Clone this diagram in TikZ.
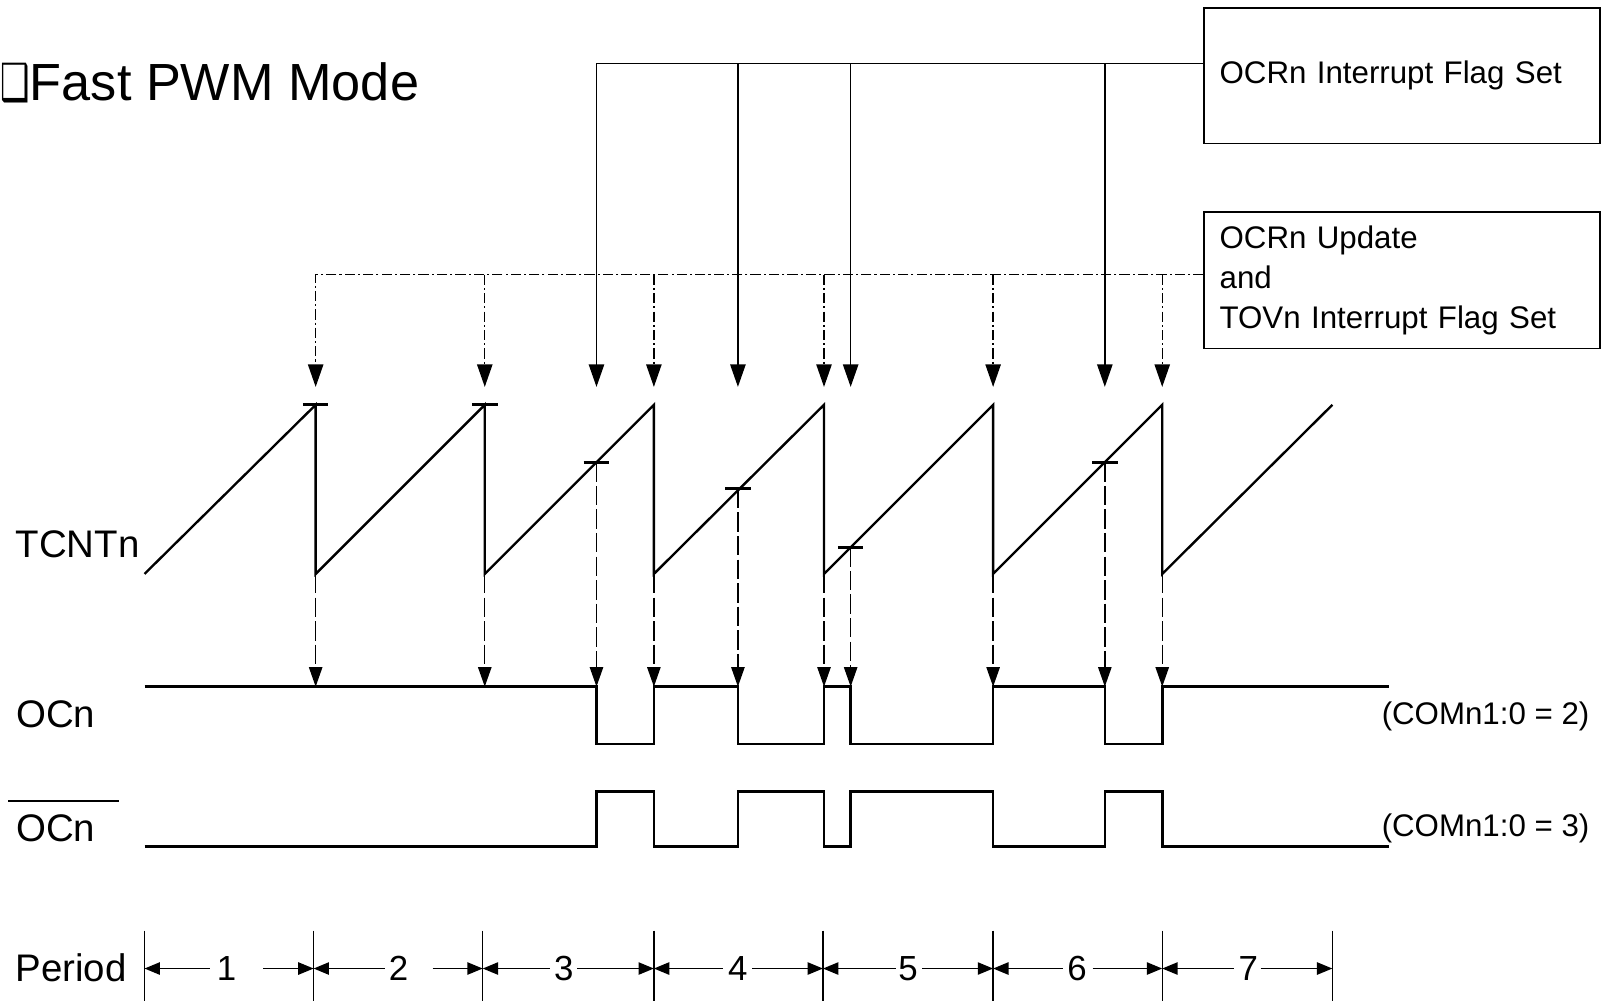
\documentclass[tikz,border=0pt]{standalone}
\usepackage{fontspec}
\setmainfont{Liberation Sans}
\newfontfamily\djv{DejaVu Sans}
\usetikzlibrary{arrows.meta}
\begin{document}
\begin{tikzpicture}[x=1pt,y=-1pt,
  wave/.style={line width=2.6pt, line join=miter},
  saw/.style={line width=2.3pt, line join=miter},
  thinline/.style={line width=1.5pt},
  tickmark/.style={line width=3pt},
  dashv/.style={line width=1.3pt, dash pattern=on 19pt off 4pt},
  dashdot/.style={line width=1.3pt, dash pattern=on 10pt off 3pt on 2pt off 3pt},
  bigtip/.style={-{Triangle[length=22pt,width=15pt]}},
  smalltip/.style={-{Triangle[length=19pt,width=13pt]}},
  ltip/.style={{Triangle[length=15pt,width=12pt]}-},
  rtip/.style={-{Triangle[length=15pt,width=12pt]}},
  box/.style={draw, line width=1.5pt, minimum width=386pt, inner xsep=15pt, inner ysep=0pt,
    text width=356pt, align=left, font=\fontsize{30.5}{39}\selectfont},
  lbl/.style={anchor=base west, inner sep=0pt, font=\fontsize{37.5}{40}\selectfont},
  com/.style={anchor=base west, inner sep=0pt, font=\fontsize{30.5}{36}\selectfont},
  num/.style={anchor=base, inner sep=0pt, font=\fontsize{34}{36}\selectfont}
]
\fill[white] (0,0) rectangle (1567,977);
\useasboundingbox (0,0) rectangle (1567,977);

% title
\node[anchor=base west, inner sep=0pt, font=\djv\fontsize{50}{52}\selectfont, xscale=0.64] (bul) at (0,98.5) {❑};
\node[anchor=base west, inner sep=0pt, font=\fontsize{51}{54}\selectfont] (title) at (29,98.5) {Fast PWM Mode};

% boxes
\node[box, minimum height=132pt] (ocf) at (1368,74) {OCRn Interrupt Flag Set};
\node[box, minimum height=133pt] (upd) at (1368,273.5) {OCRn Update\\and\\TOVn Interrupt Flag Set};

% labels
\node[lbl] (tcnt) at (15,544) {TCNTn};
\node[lbl] (ocn) at (15.6,710) {OCn};
\node[lbl] (ocnb) at (15.6,821) {OCn};
\draw[line width=2pt] (8,782) -- (116,782);
\node[com] (c2) at (1348,707) {(COMn1:0 = 2)};
\node[com] (c3) at (1348,816) {(COMn1:0 = 3)};
\node[lbl] (per) at (15,958) {Period};

% top level lines
\coordinate (topy) at (0,62);
\coordinate (updy) at (0,268);
\draw[thinline, bigtip] (ocf.west |- topy) -- (582,62) -- (582,377.5);
\foreach \x in {720,830,1078} \draw[thinline, bigtip] (\x,62) -- (\x,377.5);
\draw[dashdot, bigtip] (upd.west |- updy) -- (308,268) -- (308,377.5);
\foreach \x in {473,638,804,969,1134} \draw[dashdot, bigtip] (\x,268) -- (\x,377.5);

% sawtooth
\draw[saw] (141,560) -- (308,395) -- (308,560) -- (473,395) -- (473,560) -- (638,395) -- (638,560)
  -- (804,395) -- (804,560) -- (969,395) -- (969,560) -- (1134,395) -- (1134,560) -- (1300,395);
\foreach \x/\y in {308/395,473/395,582/451,720/477,830/534,1078/451}
  \draw[tickmark] (\x-12.5,\y) -- (\x+12.5,\y);

% dashed down arrows
\foreach \x/\y [count=\i] in {308/560,473/560,582/451,638/560,720/477,804/560,830/534,969/560,1078/451,1134/560}{
  \coordinate (s\i) at (\x,\y);
  \coordinate (o\i) at (\x,670);
  \draw[dashv, smalltip] (s\i) -- (o\i);
}

% OCn
\draw[wave] (141,670) -- (582,670) -- (582,726) -- (638,726) -- (638,670) -- (720,670) -- (720,726)
  -- (804,726) -- (804,670) -- (830,670) -- (830,726) -- (969,726) -- (969,670) -- (1078,670)
  -- (1078,726) -- (1134,726) -- (1134,670) -- (1355,670);
% OCn bar
\draw[wave] (141,826) -- (582,826) -- (582,772) -- (638,772) -- (638,826) -- (720,826) -- (720,772)
  -- (804,772) -- (804,826) -- (830,826) -- (830,772) -- (969,772) -- (969,826) -- (1078,826)
  -- (1078,772) -- (1134,772) -- (1134,826) -- (1355,826);

% period row
\foreach \x [count=\i from 0] in {141,306,471,638,803,969,1134,1300}{
  \coordinate (b\i) at (\x,945);
  \draw[line width=1.4pt] (\x,908) -- (\x,977);
}
\foreach \n/\cx/\l/\r [count=\i] in {1/221/205/257, 2/389/376/422, 3/550/537/563, 4/720/705/734, 5/886/874/900, 6/1051/1037/1066, 7/1218/1204/1230}{
  \pgfmathtruncatemacro{\j}{\i-1}
  \node[num] (p\i) at (\cx,957) {\n};
  \coordinate (pl\i) at (\l,945);
  \coordinate (pr\i) at (\r,945);
  \draw[thinline, ltip] (b\j) -- (pl\i);
  \draw[thinline, rtip] (pr\i) -- (b\i);
}
\end{tikzpicture}
\end{document}
